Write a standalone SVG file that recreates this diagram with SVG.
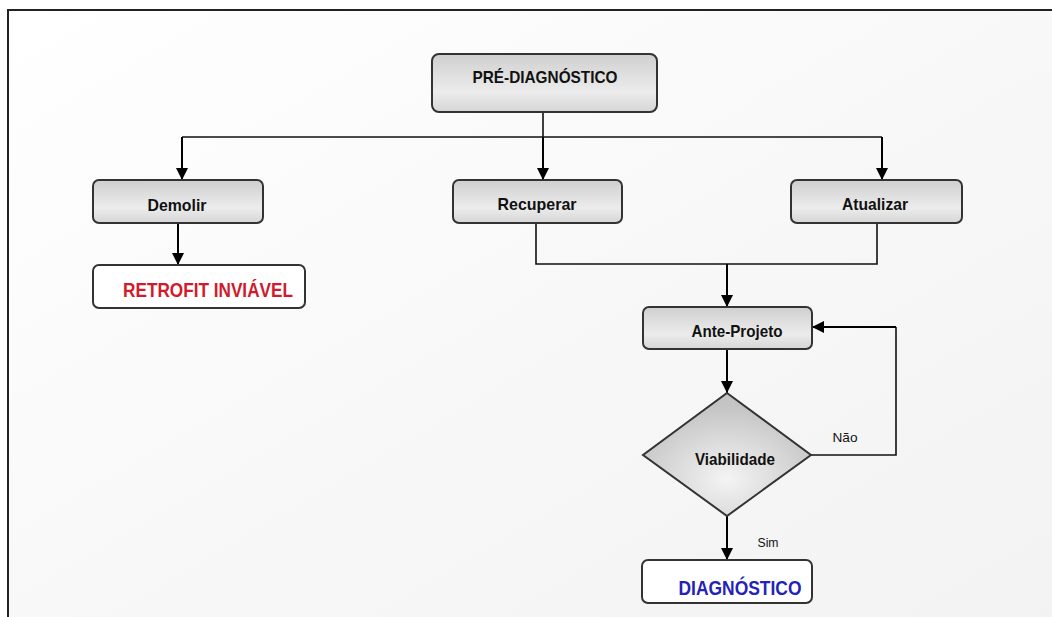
<svg xmlns="http://www.w3.org/2000/svg" width="1052" height="617" viewBox="0 0 1052 617">
<defs>
<linearGradient id="bg" x1="0" y1="0" x2="1" y2="1">
<stop offset="0" stop-color="#ffffff"/>
<stop offset="0.5" stop-color="#f8f8f8"/>
<stop offset="1" stop-color="#f2f2f2"/>
</linearGradient>
<linearGradient id="box" x1="0" y1="0" x2="0" y2="1">
<stop offset="0" stop-color="#cfcfcf"/>
<stop offset="0.65" stop-color="#ececec"/>
<stop offset="1" stop-color="#d6d6d6"/>
</linearGradient>
<radialGradient id="dia" cx="0.5" cy="0.7" r="0.6">
<stop offset="0" stop-color="#f4f4f4"/>
<stop offset="1" stop-color="#c4c4c4"/>
</radialGradient>
<marker id="arr" viewBox="0 0 12 12" refX="12" refY="6" markerWidth="12" markerHeight="12" markerUnits="userSpaceOnUse" orient="auto">
<path d="M0,0 L12,6 L0,12 z" fill="#000"/>
</marker>
<style>
.b{fill:url(#box);stroke:#333;stroke-width:2}
.w{fill:#fff;stroke:#333;stroke-width:2}
.t{font-family:"Liberation Sans Narrow","Liberation Sans",Arial,sans-serif;font-weight:bold;font-size:17px;fill:#111;text-anchor:middle}
.s{font-family:"Liberation Sans Narrow","Liberation Sans",Arial,sans-serif;font-size:12px;fill:#111;text-anchor:middle}
.c{fill:none;stroke:#111;stroke-width:1.6}
.a{fill:none;stroke:#000;stroke-width:2;marker-end:url(#arr)}
</style>
</defs>
<rect x="0" y="0" width="1052" height="617" fill="#fff"/>
<rect x="8" y="10" width="1060" height="620" fill="url(#bg)" stroke="#222" stroke-width="2"/>

<g id="connectors">
<path class="c" d="M543,112 V137 M182,137 H882"/>
<path class="a" d="M182,137 V180"/>
<path class="a" d="M543,137 V180"/>
<path class="a" d="M882,137 V180"/>
<path class="a" d="M178,223 V265"/>
<path class="c" d="M536,223 V264 H877 V223"/>
<path class="a" d="M727,264 V307"/>
<path class="a" d="M727,349 V393"/>
<path class="c" d="M811,455 H896 V327"/>
<path class="a" d="M896,327 H812"/>
<path class="a" d="M727,516 V560"/>
<text class="s" x="845" y="442" textLength="25" lengthAdjust="spacingAndGlyphs">Não</text>
<text class="s" x="768" y="547" textLength="21" lengthAdjust="spacingAndGlyphs">Sim</text>
</g>

<g id="pre-diagnostico">
<rect class="b" x="432" y="54" width="225" height="58" rx="7"/>
<text class="t" x="545" y="83" textLength="145" lengthAdjust="spacingAndGlyphs">PRÉ-DIAGNÓSTICO</text>
</g>
<g id="demolir">
<rect class="b" x="93" y="180" width="170" height="43" rx="6"/>
<text class="t" x="177" y="211" textLength="59" lengthAdjust="spacingAndGlyphs">Demolir</text>
</g>
<g id="recuperar">
<rect class="b" x="453" y="180" width="169" height="43" rx="6"/>
<text class="t" x="537" y="210" textLength="79" lengthAdjust="spacingAndGlyphs">Recuperar</text>
</g>
<g id="atualizar">
<rect class="b" x="791" y="180" width="171" height="43" rx="6"/>
<text class="t" x="875" y="210" textLength="66" lengthAdjust="spacingAndGlyphs">Atualizar</text>
</g>
<g id="retrofit">
<rect class="w" x="93" y="265" width="212" height="43" rx="6"/>
<text class="t" x="208" y="297" style="fill:#d11a2a;font-size:20px" textLength="170" lengthAdjust="spacingAndGlyphs">RETROFIT INVIÁVEL</text>
</g>
<g id="ante-projeto">
<rect class="b" x="643" y="307" width="169" height="42" rx="6"/>
<text class="t" x="737" y="337" textLength="91" lengthAdjust="spacingAndGlyphs">Ante-Projeto</text>
</g>
<g id="viabilidade">
<path d="M727,393 L811,455 L727,516 L643,455 Z" fill="url(#dia)" stroke="#333" stroke-width="2"/>
<text class="t" x="735" y="465" textLength="80" lengthAdjust="spacingAndGlyphs">Viabilidade</text>
</g>
<g id="diagnostico">
<rect class="w" x="642" y="560" width="170" height="43" rx="6"/>
<text class="t" x="740" y="595" style="fill:#2323b8;font-size:20px" textLength="123" lengthAdjust="spacingAndGlyphs">DIAGNÓSTICO</text>
</g>
</svg>
